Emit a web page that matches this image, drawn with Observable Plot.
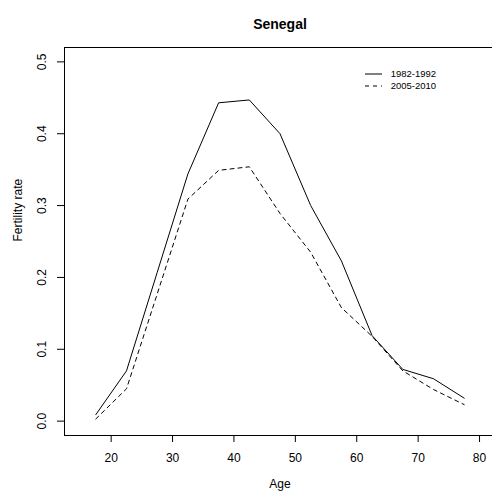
<!DOCTYPE html>
<html>
<head>
<meta charset="utf-8">
<script src="https://cdn.jsdelivr.net/npm/d3@7"></script>
<script src="https://cdn.jsdelivr.net/npm/@observablehq/plot@0.6"></script>
<style>
  html, body { margin: 0; padding: 0; background: #fff; overflow: hidden; }
  #chart { width: 492px; height: 495px; overflow: hidden; }
  #chart svg { display: block; max-width: none !important; width: 496px; height: 495px; }
</style>
</head>
<body>
<div id="chart"></div>
<script>
// Age-specific fertility rates for Senegal, two survey periods
const title = "Senegal";
const ages = [17.5, 22.5, 27.5, 32.5, 37.5, 42.5, 47.5, 52.5, 57.5, 62.5, 67.5, 72.5, 77.5];
const rate1982 = [0.009, 0.070, 0.207, 0.344, 0.443, 0.447, 0.400, 0.300, 0.223, 0.119, 0.072, 0.059, 0.032];
const rate2005 = [0.003, 0.045, 0.177, 0.309, 0.349, 0.354, 0.289, 0.235, 0.158, 0.118, 0.070, 0.044, 0.023];
const seriesNames = ["1982-1992", "2005-2010"];
const seriesDash = ["none", "4,4"];
const xTicks = [20, 30, 40, 50, 60, 70, 80];
const yTicks = [0, 0.1, 0.2, 0.3, 0.4, 0.5];
const xLabel = "Age";
const yLabel = "Fertility rate";

const font = "'Liberation Sans', Arial, Helvetica, sans-serif";

const rows = ages.flatMap((age, i) => [
  {age, rate: rate1982[i], period: seriesNames[0]},
  {age, rate: rate2005[i], period: seriesNames[1]}
]);

const plot = Plot.plot({
  width: 496,
  height: 495,
  marginLeft: 64,
  marginRight: 1,
  marginTop: 47,
  marginBottom: 60,
  style: {fontFamily: font, fontSize: "12px", color: "#000", background: "#fff", maxWidth: "none"},
  x: {domain: [12.4, 82.6]},
  y: {domain: [-0.02, 0.52]},
  marks: [
    Plot.frame({stroke: "#000", strokeWidth: 1}),
    Plot.axisX({ticks: xTicks, tickSize: 7, tickPadding: 11, label: null, fontSize: 12}),
    Plot.axisY({ticks: yTicks, tickSize: 7, tickPadding: 12, tickRotate: -90, tickFormat: d3.format(".1f"), label: null, fontSize: 12}),
    ...seriesNames.map((name, k) =>
      Plot.line(rows.filter(d => d.period === name), {
        x: "age", y: "rate", stroke: "#000", strokeWidth: 1, strokeDasharray: seriesDash[k]
      })
    ),
    Plot.text([title], {frameAnchor: "top", dy: -28, fontWeight: "bold", fontSize: 14}),
    Plot.text([xLabel], {frameAnchor: "bottom", dy: 52, fontSize: 12}),
    Plot.text([yLabel], {frameAnchor: "left", dx: -46, rotate: -90, fontSize: 12})
  ]
});

// Legend in the upper right of the plotting region
const svg = d3.select(plot);
const legend = svg.append("g")
  .attr("transform", "translate(365,74)")
  .attr("font-family", font)
  .attr("font-size", "9.5px")
  .attr("text-anchor", "start");
seriesNames.forEach((name, k) => {
  const row = legend.append("g").attr("transform", `translate(0,${k * 12})`);
  row.append("line")
    .attr("x1", 0).attr("x2", 17).attr("y1", 0).attr("y2", 0)
    .attr("stroke", "#000").attr("stroke-width", 1)
    .attr("stroke-dasharray", seriesDash[k]);
  row.append("text")
    .attr("x", 25.7).attr("y", 0).attr("dy", "0.32em")
    .attr("fill", "#000")
    .text(name);
});

document.getElementById("chart").appendChild(plot);
</script>
</body>
</html>
